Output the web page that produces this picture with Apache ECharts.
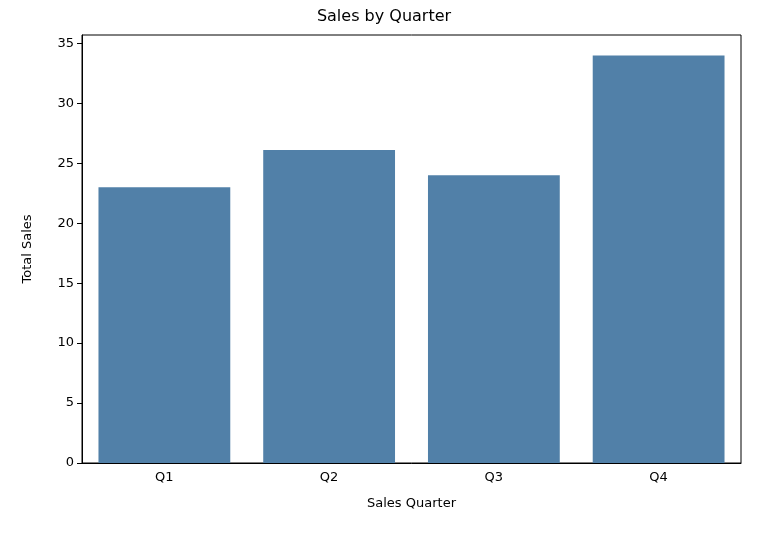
<!DOCTYPE html>
<html><head><meta charset="utf-8">
<script src="https://cdn.jsdelivr.net/npm/echarts@6/dist/echarts.min.js"></script>
<style>body{margin:0}#c{width:768px;height:534px}</style></head>
<body><div id="c"></div>
<script>
const categories = ['Q1','Q2','Q3','Q4'];
const sales = [23, 26.1, 24, 34];
const chart = echarts.init(document.getElementById('c'));
const font = 'DejaVu Sans';
chart.setOption({
  animation:false,
  title:{text:'Sales by Quarter',left:'center',top:4,textStyle:{fontFamily:font,fontSize:16,fontWeight:'normal',color:'#000'}},
  grid:{left:82,right:27,top:35,bottom:71,show:true,borderColor:'#000',borderWidth:1},
  xAxis:{type:'category',data:categories,name:'Sales Quarter',nameLocation:'middle',nameGap:34,
    nameTextStyle:{fontFamily:font,fontSize:13,color:'#000'},
    axisLine:{lineStyle:{color:'#000'}},axisTick:{alignWithLabel:true,lineStyle:{color:'#000'}},
    axisLabel:{fontFamily:font,fontSize:13,color:'#000',margin:8}},
  yAxis:{type:'value',min:0,max:35.7,interval:5,name:'Total Sales',nameLocation:'middle',nameGap:48,
    nameTextStyle:{fontFamily:font,fontSize:13,color:'#000'},
    axisLine:{show:true,lineStyle:{color:'#000'}},axisTick:{show:true,lineStyle:{color:'#000'}},
    splitLine:{show:false},
    axisLabel:{fontFamily:font,fontSize:13,color:'#000',showMaxLabel:false}},
  series:[{type:'bar',data:sales,barCategoryGap:'20%',itemStyle:{color:'#5180a8'}}]
});
</script></body></html>
